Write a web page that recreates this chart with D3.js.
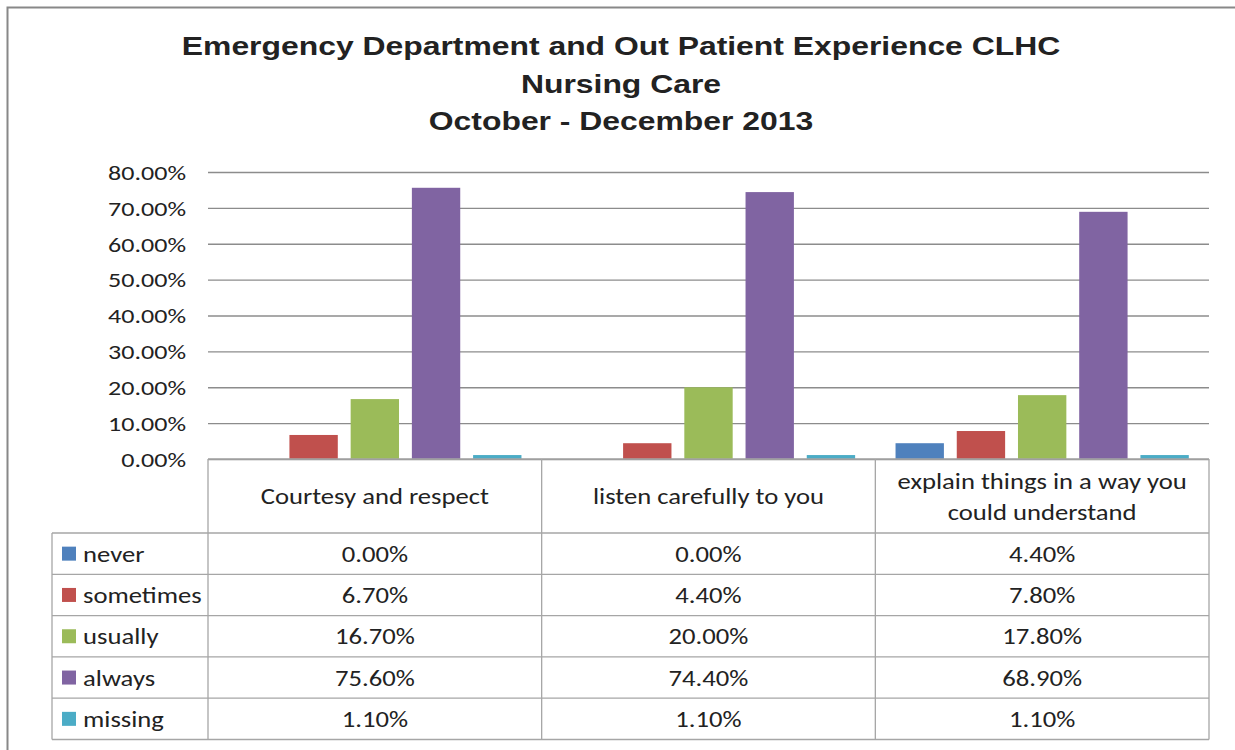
<!DOCTYPE html>
<html>
<head>
<meta charset="utf-8">
<script src="https://cdn.jsdelivr.net/npm/d3@7"></script>
<style>
body { margin: 0; background: #fff; }
text { fill: #222; }
</style>
</head>
<body>
<div id="chart"></div>
<script>
//data
var categories = ["Courtesy and respect", "listen carefully to you", "explain things in a way you|could understand"];
var seriesNames = ["never", "sometimes", "usually", "always", "missing"];
var seriesColors = ["#4F81BD", "#C0504D", "#9BBB59", "#8064A2", "#4BACC6"];
var never = [0.0, 0.0, 4.4];
var sometimes = [6.7, 4.4, 7.8];
var usually = [16.7, 20.0, 17.8];
var always = [75.6, 74.4, 68.9];
var missing = [1.1, 1.1, 1.1];
var yTicks = [0, 10, 20, 30, 40, 50, 60, 70, 80];
var titleLines = ["Emergency Department and Out Patient Experience CLHC", "Nursing Care", "October - December 2013"];

var values = [never, sometimes, usually, always, missing];

var width = 1235, height = 750;
var plotLeft = 208, plotRight = 1209, plotTop = 172, plotBottom = 459;
var tableLeft = 52, headerBottom = 533, rowH = 41.3;
var font = "Carlito, Calibri, Lato, sans-serif";
var sx = 1.24; //text in the picture is a bit wider than the font

var svg = d3.select("#chart").append("svg").attr("width", width).attr("height", height);

//helper: text stretched horizontally around its anchor point
function addText(x, y, str, size, anchor, family, weight, stretch){
    return svg.append("text")
        .attr("transform", "translate(" + x + "," + y + ") scale(" + stretch + ",1)")
        .attr("text-anchor", anchor)
        .style("font-family", family).style("font-size", size + "px")
        .style("font-weight", weight)
        .text(str);
}

//outer frame
svg.append("rect").attr("x", 7.5).attr("y", 7.5).attr("width", 1240).attr("height", 760)
    .attr("fill", "none").attr("stroke", "#888").attr("stroke-width", 2);

//title
titleLines.forEach(function(t, i){
    addText(621, 55 + i * 37.5, t, 25.5, "middle", "'Liberation Sans', Arial, sans-serif", "bold", 1.25);
});

//scales
var x0 = d3.scaleBand().domain(d3.range(categories.length)).range([plotLeft, plotRight]);
var x1 = d3.scaleBand().domain(d3.range(seriesNames.length)).range([0, x0.bandwidth()])
    .paddingInner(0.21).paddingOuter(0.33);
var y = d3.scaleLinear().domain([0, 80]).range([plotBottom, plotTop]);

//gridlines + y labels
var yA = d3.axisLeft(y).tickValues(yTicks).tickSize(-(plotRight - plotLeft))
    .tickFormat(function(d){ return d.toFixed(2) + "%"; });
var gy = svg.append("g").attr("transform", "translate(" + plotLeft + ",0)").call(yA);
gy.select(".domain").remove();
gy.selectAll("line").attr("stroke", "#8c8c8c").attr("stroke-width", 1.3);
gy.selectAll("text").attr("x", null).attr("dy", "0.35em")
    .attr("transform", "translate(-22,0) scale(" + sx + ",1)")
    .style("font-family", font).style("font-size", "21px").style("fill", "#222");

//bars
var groups = svg.selectAll(".grp").data(categories).enter().append("g")
    .attr("transform", function(d, i){ return "translate(" + x0(i) + ",0)"; });
groups.selectAll("rect").data(function(d, i){
        return values.map(function(s, j){ return {s: j, v: s[i]}; });
    }).enter().append("rect")
    .attr("x", function(d){ return x1(d.s); })
    .attr("width", x1.bandwidth())
    .attr("y", function(d){ return y(d.v); })
    .attr("height", function(d){ return y(0) - y(d.v); })
    .attr("fill", function(d){ return seriesColors[d.s]; });

//data table
var tbl = svg.append("g").attr("stroke", "#a6a6a6").attr("stroke-width", 1.3).attr("fill", "none");
var tableBottom = headerBottom + rowH * seriesNames.length;
tbl.append("line").attr("x1", plotLeft).attr("x2", plotRight).attr("y1", plotBottom).attr("y2", plotBottom);
for (var r = 0; r <= seriesNames.length; r++){
    var yy = headerBottom + r * rowH;
    tbl.append("line").attr("x1", tableLeft).attr("x2", plotRight).attr("y1", yy).attr("y2", yy);
}
tbl.append("line").attr("x1", tableLeft).attr("x2", tableLeft).attr("y1", headerBottom).attr("y2", tableBottom);
for (var c = 0; c <= categories.length; c++){
    var xx = c < categories.length ? x0(c) : plotRight;
    tbl.append("line").attr("x1", xx).attr("x2", xx).attr("y1", plotBottom).attr("y2", tableBottom);
}

//header labels
categories.forEach(function(cat, i){
    var lines = cat.split("|");
    var cy = (plotBottom + headerBottom) / 2;
    lines.forEach(function(l, k){
        addText(x0(i) + x0.bandwidth() / 2, cy + (k - (lines.length - 1) / 2) * 31 + 8,
            l, 21.5, "middle", font, "normal", sx);
    });
});

//rows
seriesNames.forEach(function(name, j){
    var cy = headerBottom + (j + 0.5) * rowH;
    svg.append("rect").attr("x", 62).attr("y", cy - 7).attr("width", 14).attr("height", 14)
        .attr("fill", seriesColors[j]);
    addText(83, cy + 8, name, 21.5, "start", font, "normal", sx);
    values[j].forEach(function(v, i){
        addText(x0(i) + x0.bandwidth() / 2, cy + 8, v.toFixed(2) + "%", 21.5, "middle", font, "normal", sx);
    });
});
</script>
</body>
</html>
